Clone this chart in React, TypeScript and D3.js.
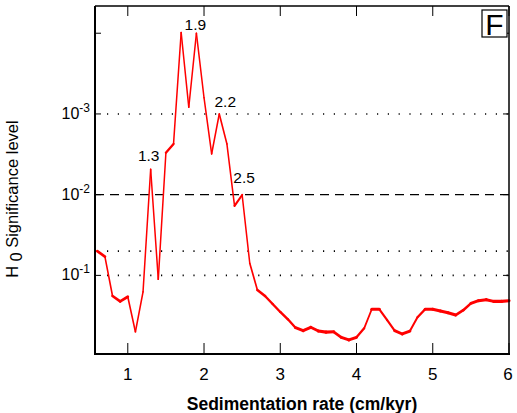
import React from "react";
import * as d3 from "d3";

const rates = [0.6,0.7,0.8,0.9,1.0,1.1,1.2,1.3,1.4,1.5,1.6,1.7,1.8,1.9,2.0,2.1,2.2,2.3,2.4,2.5,2.6,2.7,2.8,2.9,3.0,3.1,3.2,3.3,3.4,3.5,3.6,3.7,3.8,3.9,4.0,4.1,4.2,4.3,4.4,4.5,4.6,4.7,4.8,4.9,5.0,5.1,5.2,5.3,5.4,5.5,5.6,5.7,5.8,5.9,6.0];
const significance = [0.05,0.0586,0.18,0.21,0.184,0.5,0.16,0.00484,0.112,0.00302,0.00235,0.000098,0.000826,0.0001,0.00063,0.00313,0.001,0.00235,0.0138,0.0101,0.0708,0.152,0.18,0.226,0.284,0.35,0.445,0.484,0.44,0.49,0.505,0.5,0.585,0.63,0.585,0.453,0.263,0.263,0.357,0.484,0.532,0.49,0.33,0.263,0.263,0.276,0.29,0.31,0.27,0.222,0.206,0.2,0.21,0.21,0.206];
const xTicks = [1, 2, 3, 4, 5, 6];
const yTickExps = [-3, -2, -1];
const dottedLevels = [0.001, 0.05, 0.1];
const dashedLevels = [0.01];
const peakLabels = ["1.3", "1.9", "2.2", "2.5"];
const peakRates = [1.3, 1.9, 2.2, 2.5];
const peakValues = [0.00484, 0.0001, 0.001, 0.0101];
const peakOffsets = [[-2, -8], [-1, -3], [6, -7], [2, -12]];

export default function App() {
  const W = 517, H = 413;
  const left = 95, right = 509, top = 6, bottom = 354;
  const x = d3.scaleLinear().domain([0.57, 6.0]).range([left, right]);
  const y = d3.scaleLog().domain([4.6e-5, 0.942]).range([top, bottom]);
  const pts = significance.map((v, i) => [x(rates[i]), y(v)]);
  const segs = d3.pairs(pts).map(([p, q]) => {
    const dx = q[0] - p[0], dy = q[1] - p[1];
    const len = Math.hypot(dx, dy) || 1;
    const c = dx / len, s = dy / len;
    const a = 0.75, b = 1.55;
    const w = 2 * Math.sqrt(a * a * s * s + b * b * c * c);
    return { p, q, w };
  });
  const font = "Liberation Sans, Arial, sans-serif";
  return (
    <svg width={W} height={H} style={{ position: "absolute", left: 0, top: 0, background: "#fff" }}>
      <rect x={0} y={0} width={W} height={H} fill="#fff" />
      {dottedLevels.map((v) => (
        <line key={"dt" + v} x1={left + 12} x2={right} y1={y(v)} y2={y(v)} stroke="#000" strokeWidth={1.6} strokeDasharray="1.2 9.6" />
      ))}
      {dashedLevels.map((v) => (
        <line key={"ds" + v} x1={left} x2={right} y1={y(v)} y2={y(v)} stroke="#000" strokeWidth={1.4} strokeDasharray="9 6" />
      ))}
      {segs.map((sg, i) => (
        <line key={"sg" + i} x1={sg.p[0]} y1={sg.p[1]} x2={sg.q[0]} y2={sg.q[1]} stroke="#ff0000" strokeWidth={sg.w} strokeLinecap="round" />
      ))}
      {/* axes frame */}
      <line x1={left} x2={right} y1={top} y2={top} stroke="#000" strokeWidth={1.5} />
      <line x1={right} x2={right} y1={top} y2={bottom} stroke="#000" strokeWidth={1.5} />
      <line x1={left} x2={left} y1={top} y2={bottom + 1} stroke="#000" strokeWidth={2} />
      <line x1={left} x2={right + 1} y1={bottom} y2={bottom} stroke="#000" strokeWidth={2} />
      {xTicks.map((t) => (
        <g key={"xt" + t}>
          <line x1={x(t)} x2={x(t)} y1={bottom} y2={bottom - 11} stroke="#000" strokeWidth={1} />
          <line x1={x(t)} x2={x(t)} y1={top} y2={top + 10} stroke="#000" strokeWidth={1} />
          <text x={Math.min(x(t), right - 1)} y={380} fontSize={17} fontFamily={font} textAnchor="middle">{t}</text>
        </g>
      ))}
      {[-4, ...yTickExps].map((e) => (
        <g key={"yt" + e}>
          <line x1={left} x2={left + 6} y1={y(Math.pow(10, e))} y2={y(Math.pow(10, e))} stroke="#000" strokeWidth={1} />
          <line x1={right} x2={right - 6} y1={y(Math.pow(10, e))} y2={y(Math.pow(10, e))} stroke="#000" strokeWidth={1} />
        </g>
      ))}
      {yTickExps.map((e) => (
        <text key={"yl" + e} x={90} y={y(Math.pow(10, e)) + 5} fontSize={16} fontFamily={font} textAnchor="end">
          10<tspan dy={-7} fontSize={12}>{e}</tspan>
        </text>
      ))}
      {peakLabels.map((l, i) => (
        <text key={"pk" + l} x={x(peakRates[i]) + peakOffsets[i][0]} y={y(peakValues[i]) + peakOffsets[i][1]} fontSize={15.5} fontFamily={font} textAnchor="middle">{l}</text>
      ))}
      <rect x={482} y={10} width={25} height={27} fill="#fff" stroke="#000" strokeWidth={1.2} />
      <text x={494.5} y={34.5} fontSize={30} fontFamily={font} textAnchor="middle">F</text>
      <text x={(left + right) / 2} y={410} fontSize={17.5} fontWeight="bold" fontFamily={font} textAnchor="middle">Sedimentation rate (cm/kyr)</text>
      <text transform={`translate(18,199) rotate(-90)`} fontSize={16.5} fontFamily={font} textAnchor="middle">
        H<tspan dy={4} fontSize={16}> 0</tspan><tspan dy={-4}> Significance level</tspan>
      </text>
    </svg>
  );
}
